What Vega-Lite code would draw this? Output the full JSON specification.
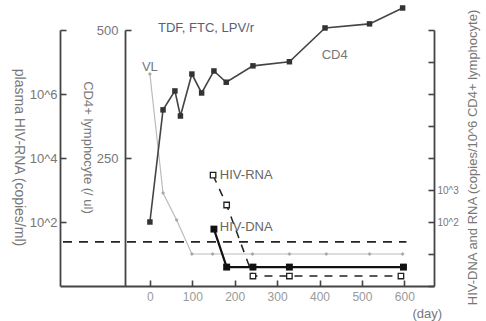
{
  "$schema": "https://vega.github.io/schema/vega-lite/v6.json",
  "width": 374,
  "height": 256,
  "autosize": {"type": "none"},
  "padding": {"left": 60, "top": 30, "right": 52, "bottom": 35},
  "background": "white",
  "config": {
    "view": {"stroke": null},
    "font": "Liberation Sans",
    "axis": {
      "grid": false,
      "domainColor": "#444",
      "domainWidth": 1.8,
      "tickColor": "#444",
      "tickWidth": 1.6,
      "ticks": true,
      "labelColor": "#777",
      "titleColor": "#777",
      "titleFontWeight": "normal",
      "labelFont": "Liberation Sans",
      "titleFont": "Liberation Sans"
    }
  },
  "datasets": {
    "vl": [
      {"day": 0, "v": 4200000}, {"day": 31, "v": 800}, {"day": 63, "v": 115}, {"day": 99, "v": 10},
      {"day": 148, "v": 10}, {"day": 242, "v": 10}, {"day": 329, "v": 10}, {"day": 416, "v": 10},
      {"day": 518, "v": 10}, {"day": 596, "v": 10}
    ],
    "limit": [{"day": -205, "v": 24}, {"day": 605, "v": 24}],
    "cd4": [
      {"day": 0, "v": 125}, {"day": 31, "v": 344}, {"day": 59, "v": 381}, {"day": 72, "v": 332},
      {"day": 99, "v": 414}, {"day": 122, "v": 377}, {"day": 151, "v": 420}, {"day": 180, "v": 398},
      {"day": 243, "v": 430}, {"day": 329, "v": 438}, {"day": 413, "v": 504}, {"day": 518, "v": 512},
      {"day": 596, "v": 543}
    ],
    "dna": [
      {"day": 151, "v": 60}, {"day": 181, "v": 3.9}, {"day": 243, "v": 3.9}, {"day": 329, "v": 3.9}, {"day": 598, "v": 3.9}
    ],
    "rna": [
      {"day": 149, "v": 2900}, {"day": 181, "v": 340}, {"day": 243, "v": 2.05}, {"day": 329, "v": 2.05}, {"day": 592, "v": 2.05}
    ]
  },
  "encoding": {
    "x": {
      "field": "day",
      "type": "quantitative",
      "scale": {"domain": [-212, 670], "nice": false, "zero": false},
      "axis": {
        "values": [0, 100, 200, 300, 400, 500, 600],
        "tickSize": -6,
        "labelPadding": 11,
        "labelFontSize": 12,
        "labelColor": "#999",
        "title": "(day)",
        "titleFontSize": 13,
        "titleAlign": "left",
        "titleBaseline": "middle",
        "titleX": 352,
        "titleY": 27
      }
    }
  },
  "layer": [
    {
      "encoding": {
        "y": {
          "field": "v",
          "type": "quantitative",
          "scale": {"type": "log", "domain": [1, 100000000], "nice": false},
          "axis": {
            "orient": "left",
            "values": [100, 10000, 1000000, 100000000],
            "labelExpr": "datum.value >= 1e8 ? '' : '10^' + round(log(datum.value)/LN10)",
            "tickSize": -6,
            "labelPadding": 9,
            "labelFontSize": 13,
            "title": "plasma HIV-RNA (copies/ml)",
            "titleFontSize": 14,
            "titleAngle": 90,
            "titleAlign": "center",
            "titleBaseline": "middle",
            "titleX": -42,
            "titleY": 127
          }
        }
      },
      "layer": [
        {"data": {"name": "limit"}, "mark": {"type": "line", "color": "#222", "strokeWidth": 1.6, "strokeDash": [9, 7]}},
        {"data": {"name": "vl"}, "mark": {"type": "line", "color": "#bbb", "strokeWidth": 1.2}},
        {"data": {"name": "vl"}, "mark": {"type": "point", "shape": "diamond", "filled": true, "color": "#aaa", "size": 16, "opacity": 1}},
        {
          "data": {"values": [{"day": 0, "v": 6900000, "t": "VL"}]},
          "mark": {"type": "text", "align": "center", "baseline": "middle", "fontSize": 13, "color": "#777"},
          "encoding": {"text": {"field": "t"}}
        }
      ]
    },
    {
      "encoding": {
        "y": {
          "field": "v",
          "type": "quantitative",
          "scale": {"domain": [0, 500], "nice": false, "zero": true},
          "axis": {
            "orient": "left",
            "offset": -65,
            "values": [250, 500],
            "tickSize": -6,
            "labelPadding": 13,
            "labelFontSize": 13,
            "title": "CD4+ lymphocyte (/ ul)",
            "titleFontSize": 13,
            "titleAngle": 90,
            "titleAlign": "center",
            "titleBaseline": "middle",
            "titleX": -38,
            "titleY": 117
          }
        }
      },
      "layer": [
        {"data": {"name": "cd4"}, "mark": {"type": "line", "color": "#444", "strokeWidth": 1.6}},
        {"data": {"name": "cd4"}, "mark": {"type": "point", "shape": "square", "filled": true, "color": "#333", "size": 30, "opacity": 1}},
        {
          "data": {"values": [{"day": 19, "v": 504, "t": "TDF, FTC, LPV/r"}]},
          "mark": {"type": "text", "align": "left", "baseline": "middle", "fontSize": 13, "color": "#56607a"},
          "encoding": {"text": {"field": "t"}}
        },
        {
          "data": {"values": [{"day": 405, "v": 451, "t": "CD4"}]},
          "mark": {"type": "text", "align": "left", "baseline": "middle", "fontSize": 13, "color": "#777"},
          "encoding": {"text": {"field": "t"}}
        }
      ]
    },
    {
      "encoding": {
        "y": {
          "field": "v",
          "type": "quantitative",
          "scale": {"type": "log", "domain": [1, 100000000], "nice": false},
          "axis": {
            "orient": "right",
            "values": [1, 10, 100, 1000, 10000, 100000, 1000000, 10000000, 100000000],
            "labelExpr": "datum.value == 1000 ? '10^3' : (datum.value == 100 ? '10^2' : '')",
            "tickSize": -6,
            "labelPadding": 9,
            "labelFontSize": 10,
            "title": "HIV-DNA and RNA (copies/10^6 CD4+ lymphocyte)",
            "titleFontSize": 13,
            "titleAngle": -90,
            "titleAlign": "center",
            "titleBaseline": "middle",
            "titleX": 38,
            "titleY": 127
          }
        }
      },
      "layer": [
        {"data": {"name": "rna"}, "mark": {"type": "line", "color": "#222", "strokeWidth": 1.5, "strokeDash": [8, 7]}},
        {"data": {"name": "rna"}, "mark": {"type": "point", "shape": "square", "filled": false, "fill": "white", "stroke": "#222", "strokeWidth": 1.3, "size": 30, "opacity": 1}},
        {"data": {"name": "dna"}, "mark": {"type": "line", "color": "#111", "strokeWidth": 2.2}},
        {"data": {"name": "dna"}, "mark": {"type": "point", "shape": "square", "filled": true, "color": "#111", "size": 48, "opacity": 1}},
        {
          "data": {"values": [{"day": 165, "v": 2950, "t": "HIV-RNA"}, {"day": 165, "v": 70, "t": "HIV-DNA"}]},
          "mark": {"type": "text", "align": "left", "baseline": "middle", "fontSize": 13, "color": "#666"},
          "encoding": {"text": {"field": "t"}}
        }
      ]
    }
  ],
  "resolve": {"scale": {"y": "independent"}, "axis": {"y": "independent"}}
}
